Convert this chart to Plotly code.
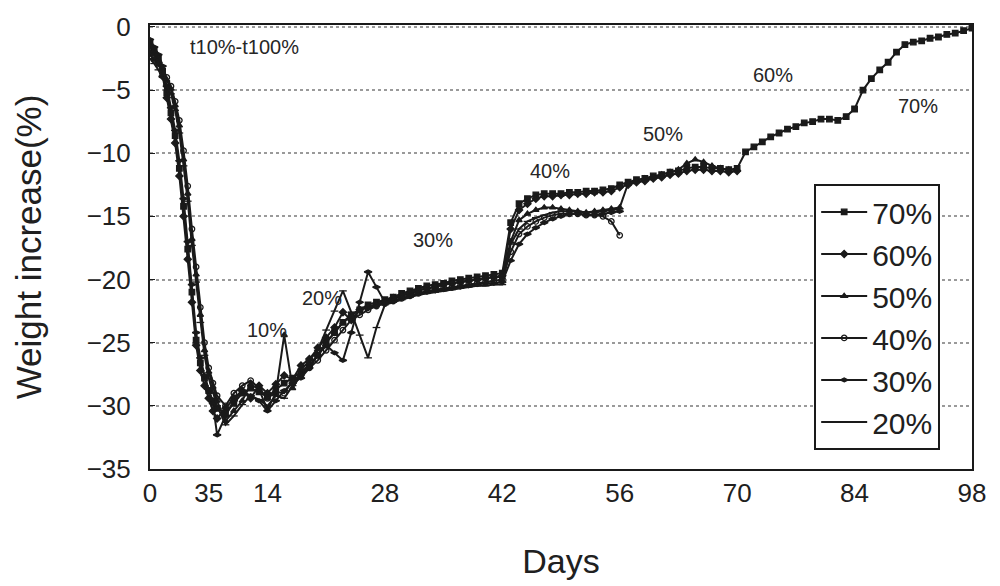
import plotly.graph_objects as go

# ---------------- data ----------------
DAYS_EARLY = [0, 0.5, 1, 1.5, 2, 2.5, 3, 3.5, 4, 4.5, 5, 5.5, 6, 6.5, 7, 7.5, 8, 9, 10, 11, 12, 13, 14]
DAYS_MID = [15, 16, 17, 18, 19, 20, 21, 22, 23, 24, 25, 26, 27, 28, 29, 30, 31, 32, 33, 34, 35, 36, 37, 38, 39, 40, 41, 42]
DAYS_LATE = [43, 44, 45, 46, 47, 48, 49, 50, 51, 52, 53, 54, 55, 56]
DAYS_TAIL = [57, 58, 59, 60, 61, 62, 63, 64, 65, 66, 67, 68, 69, 70]
DAYS_END = [71, 72, 73, 74, 75, 76, 77, 78, 79, 80, 81, 82, 83, 84, 85, 86, 87, 88, 89, 90, 91, 92, 93, 94, 95, 96, 97, 98]

RH70_EARLY = [-1.2, -1.8, -2.5, -3.5, -5.2, -6.8, -8.6, -11.2, -14.2, -17.6, -21.0, -24.8, -26.6, -27.8, -28.8, -29.6, -30.2, -30.6, -29.8, -29.0, -28.6, -28.9, -29.3]
RH70_MID = [-28.7, -28.2, -27.8, -27.3, -26.8, -26.0, -25.0, -24.2, -23.4, -22.8, -22.4, -22.0, -21.8, -21.6, -21.4, -21.1, -20.9, -20.7, -20.5, -20.4, -20.3, -20.1, -20.0, -19.9, -19.8, -19.7, -19.6, -19.5]
RH70_LATE = [-15.5, -14.0, -13.6, -13.3, -13.2, -13.2, -13.2, -13.1, -13.1, -13.0, -13.0, -12.9, -12.8, -12.5]
RH70_TAIL = [-12.3, -12.1, -12.0, -11.8, -11.7, -11.5, -11.4, -11.2, -11.1, -11.1, -11.2, -11.2, -11.3, -11.2]
RH70_END = [-9.9, -9.5, -9.1, -8.7, -8.4, -8.1, -7.9, -7.6, -7.5, -7.3, -7.3, -7.4, -7.1, -6.5, -5.0, -4.1, -3.4, -2.8, -2.0, -1.4, -1.2, -1.1, -0.9, -0.8, -0.6, -0.5, -0.3, -0.1]

RH60_EARLY = [-1.5, -2.0, -2.8, -3.9, -5.6, -7.3, -9.2, -11.8, -15.0, -18.4, -21.8, -25.2, -27.2, -28.4, -29.4, -30.4, -31.0, -30.2, -29.4, -28.8, -29.4, -28.4, -29.0]
RH60_MID = [-28.3, -27.6, -27.9, -26.8, -26.3, -25.4, -24.6, -23.8, -22.6, -23.2, -22.4, -22.2, -22.0, -21.8, -21.5, -21.3, -21.1, -20.9, -20.7, -20.6, -20.4, -20.3, -20.2, -20.1, -20.0, -19.9, -19.8, -19.7]
RH60_LATE = [-16.0, -14.5, -14.0, -13.6, -13.4, -13.4, -13.3, -13.3, -13.2, -13.2, -13.1, -13.1, -13.0, -12.7]
RH60_TAIL = [-12.5, -12.3, -12.2, -12.0, -11.9, -11.7, -11.6, -11.4, -11.3, -11.3, -11.4, -11.4, -11.5, -11.4]

RH50_EARLY = [-2.2, -2.6, -3.0, -3.6, -4.2, -4.9, -6.2, -7.8, -10.5, -13.2, -16.8, -19.6, -22.8, -25.6, -27.3, -28.5, -29.6, -31.2, -30.4, -29.6, -28.3, -28.7, -30.3]
RH50_MID = [-29.0, -24.4, -28.6, -27.5, -26.8, -26.0, -25.0, -24.2, -23.4, -22.8, -22.4, -22.2, -22.0, -21.7, -21.4, -21.2, -21.0, -20.8, -20.7, -20.6, -20.4, -20.3, -20.2, -20.1, -20.0, -19.9, -19.8, -19.8]
RH50_LATE = [-17.0, -15.3, -14.8, -14.5, -14.3, -14.3, -14.4, -14.5, -14.6, -14.7, -14.6, -14.5, -14.4, -14.3]
RH50_TAIL = [-12.4, -12.2, -12.0, -11.9, -11.7, -11.5, -11.3, -10.8, -10.5, -10.7, -11.0, -11.2, -11.3, -11.3]

RH40_EARLY = [-1.8, -2.3, -2.8, -3.4, -4.0, -4.7, -5.9, -7.4, -9.8, -12.6, -16.0, -19.0, -22.2, -25.0, -27.0, -28.2, -29.2, -30.0, -29.0, -28.4, -28.0, -28.6, -29.4]
RH40_MID = [-28.9, -29.0, -28.0, -27.6, -27.0, -26.4, -25.6, -24.8, -24.0, -23.2, -22.8, -22.4, -22.1, -21.9, -21.7, -21.5, -21.3, -21.1, -20.9, -20.8, -20.7, -20.6, -20.5, -20.4, -20.3, -20.2, -20.1, -20.0]
RH40_LATE = [-17.8, -16.4, -15.8, -15.4, -15.1, -14.9, -14.8, -14.8, -14.8, -14.9, -14.9, -15.0, -15.4, -16.5]

RH30_EARLY = [-1.0, -1.6, -2.2, -3.1, -4.7, -6.4, -8.2, -10.6, -13.6, -17.0, -20.4, -24.2, -26.2, -27.6, -28.7, -29.8, -32.3, -30.8, -29.6, -28.8, -29.2, -29.6, -30.4]
RH30_MID = [-29.6, -28.8, -28.2, -27.8, -27.0, -26.0, -25.2, -25.8, -26.4, -24.2, -21.8, -19.4, -20.6, -21.8, -21.7, -21.5, -21.3, -21.1, -21.0, -20.9, -20.8, -20.7, -20.6, -20.5, -20.4, -20.3, -20.3, -20.2]
RH30_LATE = [-18.5, -17.2, -16.4, -15.9, -15.5, -15.2, -15.0, -14.8, -14.8, -14.9, -14.9, -14.8, -14.7, -14.6]

RH20_EARLY = [-2.5, -2.9, -3.4, -4.0, -4.6, -5.3, -6.6, -8.4, -11.0, -13.8, -17.3, -20.2, -23.4, -26.0, -27.8, -29.0, -30.0, -31.5, -30.8, -29.9, -29.2, -29.5, -30.0]
RH20_MID = [-29.2, -29.4, -28.4, -27.2, -26.4, -25.6, -24.0, -22.5, -20.9, -22.6, -24.4, -26.2, -23.8, -22.0, -21.8, -21.6, -21.4, -21.2, -21.1, -21.0, -20.9, -20.8, -20.7, -20.6, -20.5, -20.5, -20.4, -20.4]
RH20_LATE = [-17.2, -16.0, -15.4, -15.1, -14.9, -14.7, -14.6, -14.6, -14.6, -14.7, -14.7, -14.6, -14.5, -14.4]

SERIES_NAMES = ["70%", "60%", "50%", "40%", "30%", "20%"]
SERIES_X = [
    DAYS_EARLY + DAYS_MID + DAYS_LATE + DAYS_TAIL + DAYS_END,
    DAYS_EARLY + DAYS_MID + DAYS_LATE + DAYS_TAIL,
    DAYS_EARLY + DAYS_MID + DAYS_LATE + DAYS_TAIL,
    DAYS_EARLY + DAYS_MID + DAYS_LATE,
    DAYS_EARLY + DAYS_MID + DAYS_LATE,
    DAYS_EARLY + DAYS_MID + DAYS_LATE,
]
SERIES_Y = [
    RH70_EARLY + RH70_MID + RH70_LATE + RH70_TAIL + RH70_END,
    RH60_EARLY + RH60_MID + RH60_LATE + RH60_TAIL,
    RH50_EARLY + RH50_MID + RH50_LATE + RH50_TAIL,
    RH40_EARLY + RH40_MID + RH40_LATE,
    RH30_EARLY + RH30_MID + RH30_LATE,
    RH20_EARLY + RH20_MID + RH20_LATE,
]
SERIES_SYMBOLS = ["square", "diamond", "triangle-up", "circle-open", "diamond-wide", "line-ew"]

X_TICK_VALUES = [0, 7, 14, 28, 42, 56, 70, 84, 98]
X_TICK_TEXT = ["0", "35", "14", "28", "42", "56", "70", "84", "98"]
Y_TICK_VALUES = [0, -5, -10, -15, -20, -25, -30, -35]

STAGE_LABELS = ["t10%-t100%", "10%", "20%", "30%", "40%", "50%", "60%", "70%"]
STAGE_X = [11.3, 13.9, 20.5, 33.7, 47.7, 61.2, 74.3, 91.6]
STAGE_Y = [-1.6, -24.0, -21.5, -16.9, -11.4, -8.5, -3.8, -6.3]

FONT = "Liberation Sans, Arial, sans-serif"
INK = "#1a1a1a"
TXT = "#202020"

fig = go.Figure()
for i, name in enumerate(SERIES_NAMES):
    sym = SERIES_SYMBOLS[i]
    fig.add_trace(go.Scatter(
        x=SERIES_X[i], y=SERIES_Y[i], name=name, mode="lines+markers",
        line=dict(color=INK, width=2.0),
        marker=dict(symbol=sym, size=5.5, color=INK,
                    line=dict(color=INK, width=1.3)),
        legendgroup=name,
    ))

for txt, xv, yv in zip(STAGE_LABELS, STAGE_X, STAGE_Y):
    fig.add_annotation(x=xv, y=yv, xref="x", yref="y", text=txt, showarrow=False,
                       font=dict(family=FONT, size=20, color="#262626"))

fig.update_layout(
    width=1000, height=586,
    margin=dict(l=150, r=28, t=25, b=117),
    paper_bgcolor="white", plot_bgcolor="white",
    font=dict(family=FONT, color=TXT),
    showlegend=True,
    legend=dict(
        x=0.808, y=0.642, xanchor="left", yanchor="top",
        bgcolor="white", bordercolor=INK, borderwidth=2,
        font=dict(family=FONT, size=30, color=TXT),
        tracegroupgap=12, traceorder="normal", itemwidth=46,
    ),
)
fig.update_xaxes(
    range=[0, 98], tickmode="array", tickvals=X_TICK_VALUES, ticktext=X_TICK_TEXT,
    showline=True, linecolor=INK, linewidth=2, mirror=True,
    showgrid=False, zeroline=False, ticks="",
    tickfont=dict(family=FONT, size=26, color=TXT),
    title=dict(text="Days", font=dict(family=FONT, size=34, color=TXT), standoff=42),
)
fig.update_yaxes(
    range=[-35, 0.15], tickmode="array", tickvals=Y_TICK_VALUES,
    showline=True, linecolor=INK, linewidth=2, mirror=True,
    showgrid=True, gridcolor="#9a9a9a", gridwidth=1.5, griddash="dot",
    zeroline=False, ticks="inside", ticklen=5, tickcolor=INK,
    ticklabelstandoff=12,
    tickfont=dict(family=FONT, size=26, color=TXT),
    title=dict(text="Weight increase(%)", font=dict(family=FONT, size=35, color=TXT), standoff=34),
)

fig.write_html("out.html", config={"displayModeBar": False},
               post_script="document.body.style.margin='0';")
